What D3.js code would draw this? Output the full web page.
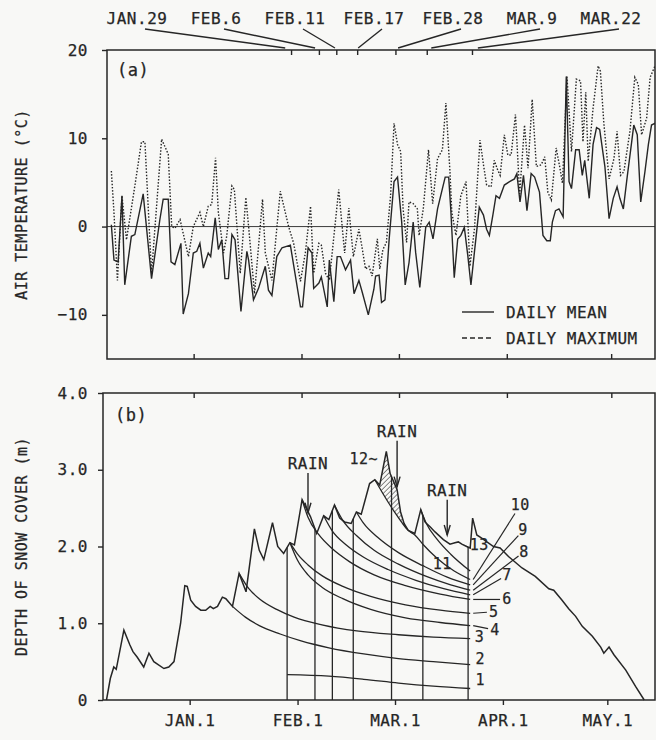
<!DOCTYPE html>
<html><head><meta charset="utf-8">
<script src="https://cdn.jsdelivr.net/npm/d3@7"></script>
<style>body{margin:0;background:#f8f8f6}svg{display:block}</style>
</head><body><svg id="c" width="656" height="740"></svg>
<script>
// ---------- DATA ----------
const monthTicks = [0, 31, 59, 90, 120];
const monthLabels = ["JAN.1", "FEB.1", "MAR.1", "APR.1", "MAY.1"];
const obsDays = [28, 36, 41, 47, 58, 67, 80];
const obsLabels = ["JAN.29", "FEB.6", "FEB.11", "FEB.17", "FEB.28", "MAR.9", "MAR.22"];
const tempTicks = [20, 10, 0, -10];
const depthTicks = [4, 3, 2, 1, 0];
const depthTickLabels = ["4.0", "3.0", "2.0", "1.0", "0"];

// (a) daily mean air temperature: [day from Jan 1, degC]
const meanTemp = [[-23.65,0.2],[-22.9,-3.8],[-21.7,-4.0],[-20.6,3.5],[-19.8,-6.6],[-17.9,-1.1],[-16.9,-0.9],[-14.5,3.7],[-12.1,-5.9],[-9.7,0.8],[-8.75,3.1],[-7.3,3.1],[-6.5,-4.0],[-5.4,-4.3],[-3.65,-1.9],[-3.0,-9.9],[-1.5,-7.6],[-0.1,-3.0],[0.9,-2.8],[1.8,-1.9],[2.8,-4.7],[4.2,-3.0],[4.9,-3.4],[6.2,1.0],[7.1,-2.6],[8.1,-1.5],[9.0,-5.9],[10.0,-5.9],[11.0,-0.9],[11.9,-1.5],[13.6,-9.6],[15.3,-2.8],[15.8,-3.8],[17.2,-8.3],[18.65,-7.0],[20.6,-4.5],[21.5,-7.2],[22.5,-7.8],[23.9,-3.4],[25.4,-2.4],[27.8,-2.1],[30.7,-9.1],[31.3,-9.1],[32.9,-2.4],[34.0,-3.0],[34.5,-7.0],[36.0,-6.4],[36.7,-5.7],[38.4,-9.1],[39.0,-3.8],[40.3,-8.5],[41.25,-3.4],[42.2,-3.4],[43.65,-4.9],[45.1,-3.8],[46.1,-7.6],[47.5,-6.1],[48.5,-7.5],[50.2,-10.0],[51.8,-7.1],[52.3,-5.6],[53.3,-5.5],[54.0,-8.6],[55.0,-8.3],[56.2,-1.4],[57.6,5.1],[58.6,5.6],[59.8,0.5],[60.8,-6.6],[61.9,-4.1],[63.1,0.5],[63.8,-2.9],[65.0,-6.9],[66.7,-0.1],[67.7,0.5],[68.8,-1.4],[70.1,2.0],[71.5,4.3],[72.3,5.6],[73.3,5.6],[73.9,2.0],[74.9,-5.8],[75.9,-1.4],[76.8,-1.0],[77.8,-0.1],[78.8,-3.3],[79.7,-6.6],[80.7,-2.9],[82.1,2.2],[83.3,1.3],[84.2,-0.3],[85.0,-1.0],[86.0,1.3],[86.9,3.5],[87.9,3.2],[89.3,4.7],[90.8,5.1],[92.2,5.4],[92.9,6.0],[93.8,2.8],[94.8,5.8],[95.8,1.8],[97.0,6.0],[98.0,5.6],[99.4,3.9],[100.4,-1.0],[101.5,-1.6],[102.5,-1.6],[103.1,0.5],[104.0,1.8],[105.0,2.0],[106.2,1.1],[107.1,17.0],[107.9,5.1],[108.6,4.3],[109.8,8.7],[110.8,8.7],[111.7,5.8],[112.4,7.5],[113.7,3.2],[114.8,9.3],[115.8,11.2],[116.7,11.0],[118.2,6.8],[119.4,0.9],[120.6,3.2],[121.7,4.5],[122.5,3.2],[123.5,2.0],[124.6,5.6],[125.9,9.6],[126.5,11.5],[127.5,10.4],[128.5,2.8],[129.7,6.2],[130.7,9.3],[131.6,11.5],[132.6,11.7],[133.5,10.8]];

// (a) daily maximum air temperature
const maxTemp = [[-23.65,6.3],[-22.9,1.6],[-21.9,-6.1],[-20.6,3.5],[-19.3,-1.5],[-16.9,4.6],[-15.0,9.6],[-14.0,9.6],[-12.1,-5.3],[-9.2,9.9],[-7.3,8.2],[-6.3,0.0],[-5.4,-0.2],[-3.9,0.8],[-1.5,-3.4],[-0.1,0.0],[1.8,1.6],[2.8,0.0],[4.2,2.3],[5.2,2.5],[6.3,7.8],[7.1,1.6],[8.6,-3.0],[9.5,-1.1],[11.0,4.6],[11.7,4.2],[13.4,-5.3],[15.0,3.3],[15.8,0.0],[17.5,-7.6],[19.8,3.1],[20.6,-3.0],[22.5,-6.1],[24.9,4.0],[27.3,0.0],[28.75,-1.9],[30.7,-6.2],[32.1,-3.0],[33.6,2.3],[34.5,-5.3],[36.0,-1.9],[36.7,-2.1],[37.9,-5.3],[39.0,-6.1],[41.7,4.2],[43.4,-3.0],[44.6,2.1],[45.9,-3.4],[47.5,-0.3],[48.5,-2.6],[49.4,-4.8],[50.4,-4.5],[51.3,-5.6],[52.8,-1.4],[53.5,-4.8],[54.4,-2.6],[55.4,-1.8],[56.6,3.5],[57.6,11.7],[58.6,9.3],[59.5,8.5],[60.2,2.0],[61.2,-1.8],[61.9,2.8],[63.1,2.6],[64.3,2.0],[64.8,-1.0],[66.0,2.0],[67.5,8.7],[68.7,2.6],[70.1,7.7],[71.5,8.7],[72.5,14.0],[73.7,6.0],[74.2,1.6],[75.4,-1.0],[76.8,3.5],[78.3,5.1],[79.4,-4.5],[80.7,-0.3],[82.3,9.8],[83.3,7.0],[84.2,4.7],[85.5,4.5],[86.4,7.5],[87.4,6.4],[88.1,5.8],[89.3,10.4],[90.3,8.1],[91.25,8.1],[92.5,12.7],[93.7,3.7],[95.1,11.5],[96.1,6.6],[97.3,14.4],[98.5,6.8],[99.9,7.0],[100.9,7.9],[101.8,3.9],[102.8,3.0],[104.2,8.9],[105.2,6.8],[106.0,4.9],[106.6,10.4],[107.3,17.0],[108.6,8.5],[110.0,16.7],[111.2,16.5],[111.9,9.6],[112.7,15.2],[113.4,7.4],[114.8,13.4],[116.25,18.2],[116.9,17.6],[117.9,11.7],[119.4,5.4],[120.8,7.7],[121.7,10.8],[122.7,5.8],[123.65,6.2],[125.4,10.8],[126.8,16.9],[127.8,16.1],[128.75,10.4],[130.2,12.3],[131.2,16.9],[132.6,18.2],[133.5,18.6]];

// (b) total depth of snow cover [day, m]
const snowDepth = [[-23.9,0.0],[-22.8,0.28],[-21.8,0.43],[-21.1,0.40],[-18.9,0.91],[-17.2,0.72],[-16.3,0.63],[-15.1,0.56],[-13.2,0.43],[-11.7,0.61],[-10.3,0.50],[-7.4,0.41],[-6.0,0.43],[-4.5,0.50],[-2.6,1.0],[-1.4,1.49],[-0.7,1.48],[0.3,1.30],[1.7,1.22],[3.2,1.17],[4.6,1.17],[5.9,1.22],[6.8,1.19],[8.0,1.22],[9.4,1.34],[10.4,1.32],[12.3,1.22],[14.2,1.65],[16.2,1.41],[18.6,2.23],[20.0,1.95],[21.3,1.83],[23.8,2.31],[25.3,2.0],[27.0,1.91],[28.8,2.05],[30.1,2.02],[32.3,2.61],[33.5,2.50],[34.7,2.39],[36.5,2.17],[38.5,2.40],[40.0,2.35],[41.6,2.54],[43.1,2.37],[44.5,2.32],[46.4,2.30],[47.9,2.45],[49.3,2.42],[51.7,2.82],[53.2,2.87],[54.6,2.80],[56.5,3.24],[57.6,2.95],[59.6,2.74],[60.6,2.45],[61.6,2.30],[62.8,2.21],[64.7,2.17],[66.4,2.48],[67.6,2.32],[69.0,2.26],[70.5,2.19],[72.9,2.09],[74.8,2.03],[76.2,2.05],[77.2,2.06],[78.2,2.03],[79.6,2.0],[80.6,1.98],[81.3,2.37],[82.5,2.15],[83.9,2.11],[85.4,2.06],[87.3,2.0],[89.2,1.98],[91.6,1.87],[95.5,1.72],[99.3,1.61],[103.2,1.45],[104.6,1.43],[107.0,1.30],[108.9,1.19],[110.9,1.09],[112.8,0.96],[115.7,0.83],[118.1,0.69],[119.0,0.61],[120.5,0.69],[121.9,0.59],[125.3,0.39],[128.2,0.17],[130.6,0.0]];

// (b) traced snow layers [day, m]
const layer1  = [[28,0.33],[40,0.31],[50,0.27],[60,0.22],[70,0.18],[80.6,0.15]];
const layer2  = [[12.3,1.22],[16,1.08],[20,0.97],[26,0.86],[32,0.77],[40,0.68],[50,0.60],[60,0.54],[70,0.50],[80.6,0.46]];
const layer3  = [[14.2,1.65],[17,1.45],[20,1.32],[25,1.18],[30,1.08],[38,0.98],[48,0.90],[60,0.85],[70,0.82],[80.6,0.80]];
const layer4  = [[28.8,2.05],[31,1.82],[34,1.63],[38,1.47],[44,1.32],[52,1.18],[62,1.07],[72,1.01],[80.6,0.97]];
const layer5  = [[28.8,2.05],[31,1.90],[34,1.76],[38,1.62],[44,1.48],[52,1.35],[62,1.24],[72,1.17],[80.6,1.13]];
const layer6  = [[32.3,2.61],[34,2.38],[37,2.16],[41,1.97],[46,1.80],[53,1.63],[62,1.49],[72,1.38],[80.6,1.31]];
const layer7  = [[38.5,2.40],[41,2.20],[45,2.02],[50,1.86],[57,1.70],[65,1.56],[73,1.45],[80.6,1.37]];
const layer8  = [[41.6,2.54],[44,2.34],[48,2.14],[53,1.95],[60,1.77],[68,1.61],[75,1.50],[80.6,1.43]];
const layer9  = [[47.9,2.45],[50,2.30],[54,2.12],[60,1.92],[67,1.75],[74,1.60],[80.6,1.50]];
const layer10 = [[53.2,2.87],[55,2.73],[57,2.58],[59,2.44],[61,2.31],[62.8,2.21],[64.7,2.15],[67,2.03],[71,1.85],[76,1.68],[80.6,1.57]];
const layer11 = [[66.4,2.48],[68,2.30],[71,2.10],[75,1.90],[80.6,1.68]];
const layers = [layer1, layer2, layer3, layer4, layer5, layer6, layer7, layer8, layer9, layer10, layer11];

const layerNames = ["1","2","3","4","5","6","7","8","9","10","11","12~","13"];
const layerNameDay   = [83.5, 83.5, 83.3, 87.7, 87.4, 91.2, 91.2, 96.1, 95.8, 95.0, 72.6, 50.0, 83.2];
const layerNameDepth = [0.26, 0.53, 0.82, 0.91, 1.15, 1.31, 1.63, 1.93, 2.21, 2.54, 1.77, 3.14, 2.02];
// labels joined to their layer's end by a leader line
const leaderLabels = ["4","5","6","7","8","9","10"];

// RAIN marks: day, depth of arrow tip, depth of label baseline
const rainDays = [34, 59.6, 74];
const rainTipDepth = [2.44, 2.78, 2.15];
const rainLabelDepth = [3.01, 3.43, 2.66];

// ---------- DRAWING ----------
const ink = "#262626";
const font = "'DejaVu Sans Mono', monospace";
const svg = d3.select("#c");

const xA = d3.scaleLinear().domain([-24.9, 132.6]).range([107, 655]);
const xB = d3.scaleLinear().domain([-24.9, 133.7]).range([103, 655]);
const xBtop = d3.scaleLinear().domain([-24.9, 133.7]).range([107, 659]);
const yA = d3.scaleLinear().domain([-15, 20]).range([359, 50]);
const yB = d3.scaleLinear().domain([0, 4]).range([700, 393]);

function txt(sel) {
  return sel.attr("fill", ink).style("font-family", font).style("font-size", "16px")
    .style("letter-spacing", "0.5px").attr("stroke", ink).attr("stroke-width", 0.25);
}
function styleAxis(g, showText) {
  g.select(".domain").remove();
  g.selectAll(".tick line").attr("stroke", ink).attr("stroke-width", 1.4);
  txt(g.selectAll(".tick text"));
  if (!showText) g.selectAll(".tick text").remove();
}

// frames
svg.append("rect").attr("x", 107).attr("y", 50).attr("width", 548).attr("height", 309)
  .attr("fill", "none").attr("stroke", ink).attr("stroke-width", 1.5);
svg.append("rect").attr("x", 103).attr("y", 393).attr("width", 552).attr("height", 307)
  .attr("fill", "none").attr("stroke", ink).attr("stroke-width", 1.5);

// ----- panel (a) axes -----
svg.append("g").attr("transform", "translate(107,0)")
  .call(d3.axisLeft(yA).tickValues(tempTicks).tickSize(5).tickPadding(14)
    .tickFormat(d => d < 0 ? "\u2212" + Math.abs(d) : d))
  .call(g => styleAxis(g, true));
svg.append("g").attr("transform", "translate(0,50)")
  .call(d3.axisBottom(xA).tickValues(obsDays).tickSize(5)).call(g => styleAxis(g, false));
svg.append("g").attr("transform", "translate(0,359)")
  .call(d3.axisTop(xA).tickValues(monthTicks).tickSize(5)).call(g => styleAxis(g, false));

// observation date labels with leader lines
const lab = d3.scalePoint().domain(obsLabels).range([137, 611]);
obsLabels.forEach((t, i) => {
  const lx = lab(t), tx = xA(obsDays[i]);
  txt(svg.append("text").attr("x", lx).attr("y", 24).attr("text-anchor", "middle")).text(t);
  const sx = lx + 8;
  svg.append("line").attr("x1", sx).attr("y1", 29).attr("x2", tx + 0.04 * (sx - tx)).attr("y2", 48)
    .attr("stroke", ink).attr("stroke-width", 1.4);
});

txt(svg.append("text").attr("x", 117).attr("y", 76)).style("font-size", "17px").text("(a)");

// zero line
svg.append("line").attr("x1", 107).attr("x2", 655).attr("y1", yA(0)).attr("y2", yA(0))
  .attr("stroke", ink).attr("stroke-width", 0.9);

const lineA = d3.line().x(d => xA(d[0])).y(d => yA(d[1]));
svg.append("clipPath").attr("id", "ca").append("rect")
  .attr("x", 107).attr("y", 50).attr("width", 548).attr("height", 309);
svg.append("path").datum(maxTemp).attr("d", lineA).attr("clip-path", "url(#ca)")
  .attr("fill", "none").attr("stroke", ink).attr("stroke-width", 1.4).attr("stroke-dasharray", "1.5,1.7");
svg.append("path").datum(meanTemp).attr("d", lineA).attr("clip-path", "url(#ca)")
  .attr("fill", "none").attr("stroke", ink).attr("stroke-width", 1.4);

// legend
const legend = [["DAILY MEAN", null], ["DAILY MAXIMUM", "5,3"]];
legend.forEach((l, i) => {
  const y = 312 + i * 26;
  svg.append("line").attr("x1", 462).attr("x2", 494).attr("y1", y).attr("y2", y)
    .attr("stroke", ink).attr("stroke-width", 1.4).attr("stroke-dasharray", l[1]);
  txt(svg.append("text").attr("x", 506).attr("y", y + 6)).text(l[0]);
});

// axis titles
txt(svg.append("text").attr("transform", `translate(27,${(50 + 359) / 2}) rotate(-90)`)
  .attr("text-anchor", "middle")).style("font-size", "15px").text("AIR TEMPERATURE (\u00B0C)");
txt(svg.append("text").attr("transform", `translate(27,${(393 + 700) / 2}) rotate(-90)`)
  .attr("text-anchor", "middle")).style("font-size", "15px").text("DEPTH OF SNOW COVER (m)");

// ----- panel (b) axes -----
svg.append("g").attr("transform", "translate(103,0)")
  .call(d3.axisLeft(yB).tickValues(depthTicks).tickSize(5).tickPadding(10)
    .tickFormat((d, i) => depthTickLabels[i]))
  .call(g => styleAxis(g, true));
svg.append("g").attr("transform", "translate(0,393)")
  .call(d3.axisBottom(xBtop).tickValues(monthTicks).tickSize(5)).call(g => styleAxis(g, false));
svg.append("g").attr("transform", "translate(0,700)")
  .call(d3.axisBottom(xB).tickValues(monthTicks).tickSize(5).tickPadding(10)
    .tickFormat((d, i) => monthLabels[i]))
  .call(g => styleAxis(g, true));

txt(svg.append("text").attr("x", 115).attr("y", 421)).style("font-size", "17px").text("(b)");

const lineB = d3.line().x(d => xB(d[0])).y(d => yB(d[1]));
const curveB = d3.line().x(d => xB(d[0])).y(d => yB(d[1])).curve(d3.curveMonotoneX);
const depthAt = day => {
  const i = d3.bisector(d => d[0]).left(snowDepth, day);
  const a = snowDepth[Math.max(0, i - 1)], b = snowDepth[Math.min(snowDepth.length - 1, i)];
  if (b[0] === a[0]) return a[1];
  return a[1] + (b[1] - a[1]) * (day - a[0]) / (b[0] - a[0]);
};

// hatched: new snow of layer 12 that melted away (between surface and top of layer 10)
const pat = svg.append("defs").append("pattern").attr("id", "hatch").attr("patternUnits", "userSpaceOnUse")
  .attr("width", 3.5).attr("height", 3.5).attr("patternTransform", "rotate(45)");
pat.append("line").attr("x1", 0).attr("y1", 0).attr("x2", 0).attr("y2", 3.5)
  .attr("stroke", ink).attr("stroke-width", 1.1);
const hatchBase = layer10.filter(d => d[0] <= 62.8);
const spike = snowDepth.filter(d => d[0] >= 53.2 && d[0] <= 62.8);
const hatchPoly = spike.concat(hatchBase.slice().reverse());
svg.append("path").datum(hatchPoly)
  .attr("d", d3.line().x(d => xB(d[0])).y(d => yB(d[1])).curve(d3.curveLinearClosed))
  .attr("fill", "url(#hatch)").attr("stroke", "none");

// vertical observation lines
obsDays.forEach(d => {
  svg.append("line").attr("x1", xB(d)).attr("x2", xB(d)).attr("y1", yB(0)).attr("y2", yB(depthAt(d)))
    .attr("stroke", ink).attr("stroke-width", 1.3);
});

// layers
layers.forEach(l => {
  svg.append("path").datum(l).attr("d", curveB)
    .attr("fill", "none").attr("stroke", ink).attr("stroke-width", 1.3);
});

// total depth
svg.append("path").datum(snowDepth).attr("d", lineB)
  .attr("fill", "none").attr("stroke", ink).attr("stroke-width", 1.5);

// layer labels
layerNames.forEach((t, i) => {
  const cx = xB(layerNameDay[i]), cy = yB(layerNameDepth[i]);
  txt(svg.append("text").attr("x", cx).attr("y", cy + 5).attr("text-anchor", "middle"))
    .style("font-size", "15px").text(t);
  if (leaderLabels.includes(t)) {
    const l = layers[i], end = l[l.length - 1];
    const sx = xB(end[0]) + 3, sy = yB(end[1]);
    const dx = cx - sx, dy = cy - sy, len = Math.hypot(dx, dy);
    const stop = t === "10" ? 10 : 7;
    svg.append("line").attr("x1", sx).attr("y1", sy)
      .attr("x2", cx - dx / len * stop).attr("y2", cy - dy / len * stop)
      .attr("stroke", ink).attr("stroke-width", 1.2);
  }
});

// RAIN arrows
rainDays.forEach((d, i) => {
  const x = xB(d), yTip = yB(rainTipDepth[i]), yLab = yB(rainLabelDepth[i]);
  const yTop = yLab + 4;
  txt(svg.append("text").attr("x", x).attr("y", yLab).attr("text-anchor", "middle")).text("RAIN");
  svg.append("line").attr("x1", x).attr("x2", x).attr("y1", yTop).attr("y2", yTip)
    .attr("stroke", ink).attr("stroke-width", 1.4);
  svg.append("path").attr("d", `M${x - 3},${yTip - 10}L${x},${yTip}L${x + 3},${yTip - 10}`)
    .attr("fill", "none").attr("stroke", ink).attr("stroke-width", 1.4);
});
</script></body></html>
